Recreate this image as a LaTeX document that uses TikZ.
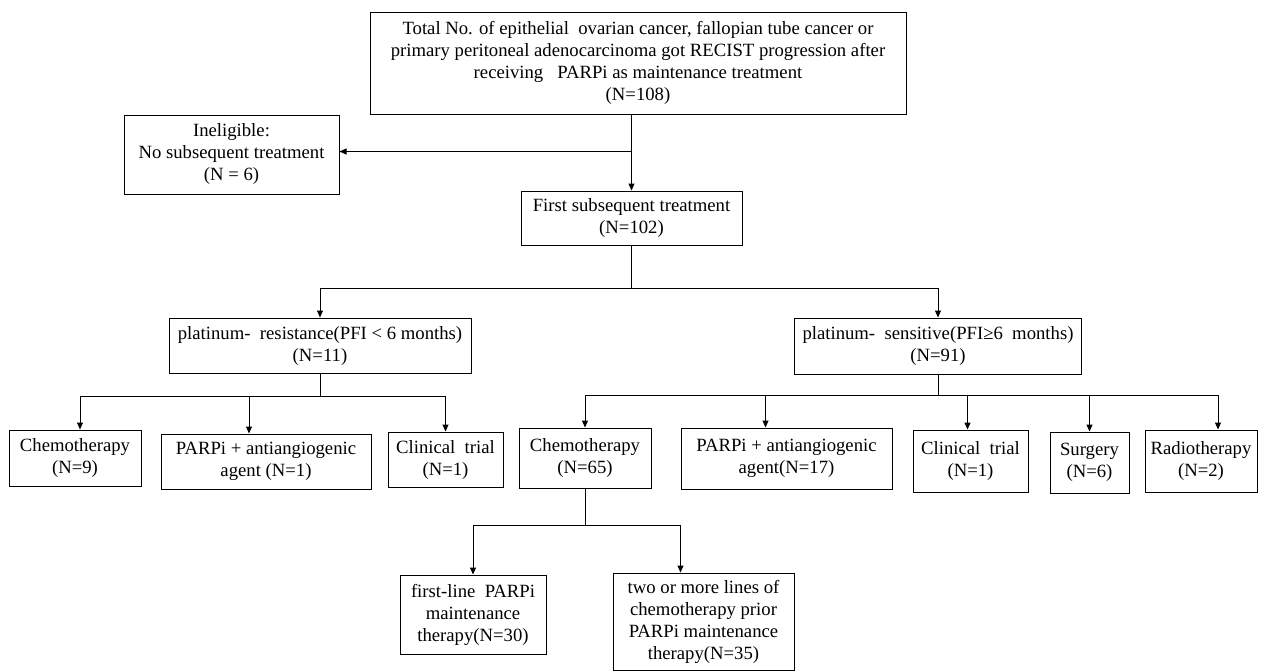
\documentclass[tikz,border=0pt]{standalone}
\usepackage{fontspec}
\setmainfont{Liberation Serif}
\usetikzlibrary{arrows.meta}
\begin{document}
\begin{tikzpicture}[x=1pt,y=-1pt,
  font=\fontsize{18.7}{22}\selectfont,
  box/.style={draw,line width=1pt,align=center,inner sep=0pt},
  conn/.style={line width=1pt},
  arr/.style={conn,-{Triangle[length=7pt,width=6pt]}}]
\useasboundingbox (0,0) rectangle (1264,672);
\node[box,minimum width=536pt,minimum height=102pt] (top) at (638,63)
  {Total No. of epithelial\ \ ovarian\ cancer, fallopian\ tube cancer or\\
   primary\ peritoneal\ adenocarcinoma got RECIST progression after\\
   receiving\ \ \ PARPi as maintenance\ treatment\\ (N=108)};
\node[box,minimum width=215pt,minimum height=79pt] (inel) at (231.5,154.5)
  {Ineligible:\\No subsequent treatment\\(N = 6)};
\node[box,minimum width=221pt,minimum height=54pt] (first) at (631.5,218)
  {First subsequent treatment\\(N=102)};
\node[box,minimum width=302pt,minimum height=55pt] (res) at (320,345.5)
  {platinum-\ \ resistance(PFI < 6 months)\\(N=11)};
\node[box,minimum width=287pt,minimum height=56pt] (sens) at (938,346)
  {platinum-\ \ sensitive(PFI≥6\ \ months)\\(N=91)};
\node[box,minimum width=132pt,minimum height=56pt] (chemoA) at (75,458)
  {Chemotherapy\\(N=9)};
\node[box,minimum width=210pt,minimum height=55pt] (parpA) at (266,461.5)
  {PARPi + antiangiogenic\\agent (N=1)};
\node[box,minimum width=115pt,minimum height=55pt] (clinA) at (445.5,459.5)
  {Clinical\ \ trial\\(N=1)};
\node[box,minimum width=132pt,minimum height=60pt] (chemoB) at (585,458)
  {Chemotherapy\\(N=65)};
\node[box,minimum width=211pt,minimum height=61pt] (parpB) at (786.5,458.5)
  {PARPi + antiangiogenic\\agent(N=17)};
\node[box,minimum width=115pt,minimum height=62pt] (clinB) at (970.5,461)
  {Clinical\ \ trial\\(N=1)};
\node[box,minimum width=79pt,minimum height=61pt] (surg) at (1089.5,462.5)
  {Surgery\\(N=6)};
\node[box,minimum width=112pt,minimum height=62pt] (radio) at (1201,461)
  {Radiotherapy\\(N=2)};
\node[box,minimum width=146pt,minimum height=79pt] (firstline) at (473,614.5)
  {first-line\ \ PARPi\\maintenance\\therapy(N=30)};
\node[box,minimum width=181pt,minimum height=97pt] (twomore) at (703.5,621.5)
  {two or more lines\ of\\chemotherapy prior\\PARPi maintenance\\therapy(N=35)};
% connectors
\draw[arr] (top.south -| first.north) -- (first.north);
\draw[arr] ([yshift=3pt]first.north |- inel.east) -- ([yshift=3pt]inel.east);
\draw[conn] (first.south) -- ++(0,43) coordinate (j2);
\draw[arr] (j2) -| (res.north);
\draw[arr] (j2) -| (sens.north);
\draw[conn] (res.south) -- ++(0,23) coordinate (j3);
\draw[arr] (j3) -| ([xshift=5pt]chemoA.north);
\draw[arr] (j3) -| ([xshift=-17pt]parpA.north);
\draw[arr] (j3) -| (clinA.north);
\draw[conn] (sens.south) -- ++(0,21) coordinate (j4);
\draw[arr] (j4) -| (chemoB.north);
\draw[arr] (j4) -| ([xshift=-21pt]parpB.north);
\draw[arr] (j4) -| ([xshift=-3pt]clinB.north);
\draw[arr] (j4) -| (surg.north);
\draw[arr] (j4) -| ([xshift=17pt]radio.north);
\draw[conn] (chemoB.south) -- ++(0,37) coordinate (j5);
\draw[arr] (j5) -| (firstline.north);
\draw[arr] (j5) -| ([xshift=-23pt]twomore.north);
\end{tikzpicture}
\end{document}
